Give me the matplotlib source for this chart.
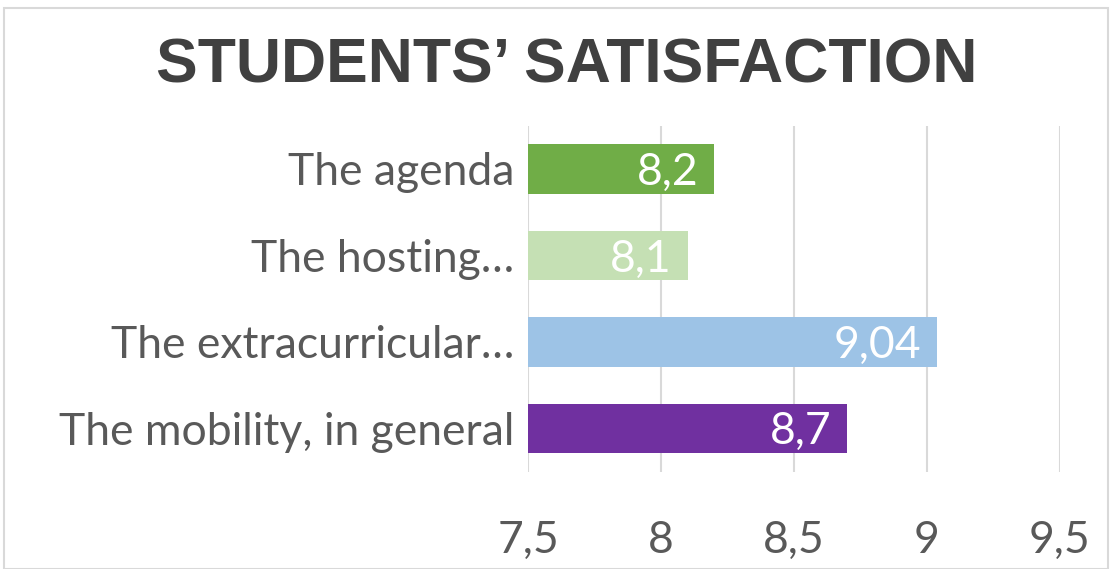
import matplotlib

matplotlib.use("Agg")

import matplotlib.pyplot as plt
from matplotlib.patches import Rectangle

# chart data, top to bottom
categories = ["The agenda", "The hosting…", "The extracurricular…", "The mobility, in general"]
values = [8.2, 8.1, 9.04, 8.7]
value_labels = ["8,2", "8,1", "9,04", "8,7"]
bar_colors = ["#70AD47", "#C5E0B4", "#9DC3E6", "#7030A0"]
x_ticks = [7.5, 8, 8.5, 9, 9.5]
x_tick_labels = ["7,5", "8", "8,5", "9", "9,5"]
title = "STUDENTS’ SATISFACTION"

TEXT = "#595959"
FONT = ["Lato", "DejaVu Sans"]
FS = 32

fig = plt.figure(figsize=(11.1, 5.69), dpi=100)
fig.patch.set_facecolor("white")
fig.patches.append(Rectangle((0.004, 0.0), 0.994, 0.986, transform=fig.transFigure,
                             fill=False, edgecolor="#D9D9D9", lw=1.5))

ax = fig.add_axes([0.4757, 0.171, 0.479, 0.608])
pos = list(range(len(categories)))
ax.barh(pos, [v - x_ticks[0] for v in values], left=x_ticks[0], height=0.57,
        color=bar_colors, zorder=3)
ax.set_ylim(len(categories) - 0.5, -0.5)
ax.set_xlim(x_ticks[0], x_ticks[-1])
ax.set_xticks(x_ticks)
ax.set_xticklabels(x_tick_labels, family=FONT, fontsize=FS, color=TEXT)
ax.set_yticks(pos)
ax.set_yticklabels(categories, family=FONT, fontsize=FS, color=TEXT)
ax.tick_params(axis="x", length=0, pad=35)
ax.tick_params(axis="y", length=0, pad=10)
ax.grid(axis="x", color="#D9D9D9", lw=1.5, zorder=0)
for side in ax.spines.values():
    side.set_visible(False)

for p, v, lab in zip(pos, values, value_labels):
    ax.text(v - 0.06, p + 0.04, lab, ha="right", va="center", color="white",
            family=FONT, fontsize=FS, zorder=4)

fig.text(0.511, 0.884, title, ha="center", va="center", fontsize=45,
         fontweight="bold", color="#404040", family=["Liberation Sans", "DejaVu Sans"])

fig.savefig("out.png", dpi=100, facecolor="white")
